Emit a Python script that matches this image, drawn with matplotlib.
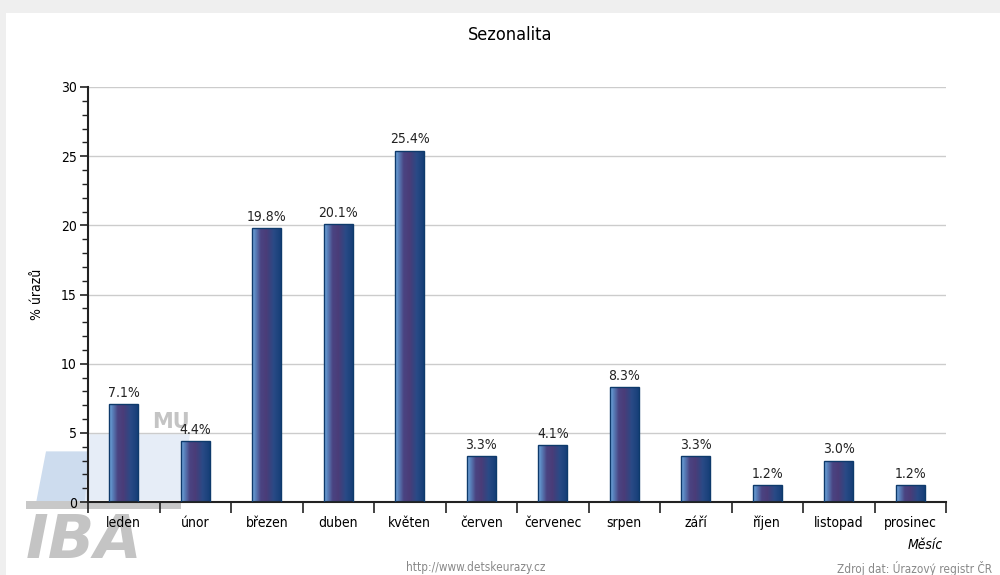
import numpy as np
import matplotlib
matplotlib.use("Agg")
import matplotlib.pyplot as plt
from matplotlib.colors import LinearSegmentedColormap
from matplotlib.patches import Rectangle, Polygon

months = ["leden", "únor", "březen", "duben", "květen", "červen",
          "červenec", "srpen", "září", "říjen", "listopad", "prosinec"]
values = [7.1, 4.4, 19.8, 20.1, 25.4, 3.3, 4.1, 8.3, 3.3, 1.2, 3.0, 1.2]
labels = [f"{v:.1f}%" for v in values]

plt.rcParams['font.family'] = ['DejaVu Sans']
FS = dict(fontstretch='condensed')

fig = plt.figure(figsize=(10, 5.75), dpi=100, facecolor='#efefef')
# white panel
fig.patches.append(Rectangle((0.006, 0), 0.994, 1 - 13 / 575, transform=fig.transFigure,
                             facecolor='white', edgecolor='none', zorder=-2))

# watermark (IBA / MU logo)
fig.patches.append(Polygon([(0.036, 0.125), (0.085, 0.125), (0.095, 0.215), (0.046, 0.215)],
                           closed=True, transform=fig.transFigure, facecolor='#cddcee',
                           edgecolor='none', zorder=-1.5))
fig.patches.append(Polygon([(0.085, 0.13), (0.18, 0.13), (0.19, 0.245), (0.09, 0.245)],
                           closed=True, transform=fig.transFigure, facecolor='#e6edf7',
                           edgecolor='none', zorder=-1.5))
fig.patches.append(Rectangle((0.026, 0.115), 0.155, 0.014, transform=fig.transFigure,
                             facecolor='#c8c8c8', edgecolor='none', zorder=-1.4))
fig.text(0.026, 0.03, "IBA", fontsize=44, fontweight='bold', style='italic',
         color='#c4c4c4', zorder=-1.3)
fig.text(0.152, 0.255, "MU", fontsize=15, fontweight='bold', color='#c4c4c4', zorder=-1.3)

ax = fig.add_axes([0.088, 1 - 502 / 575, 0.858, (502 - 87) / 575])
ax.set_facecolor('none')
x = np.arange(len(months))
bars = ax.bar(x, values, width=0.4, facecolor='none', edgecolor='#0e3a6b',
              linewidth=1.0, zorder=3)

cmap = LinearSegmentedColormap.from_list(
    'g', [(0, '#7aaee2'), (0.1, '#5a86c0'), (0.3, '#4a4482'), (0.5, '#4a3c78'),
          (0.75, '#2a4a86'), (1, '#163f78')])
grad = np.linspace(0, 1, 64).reshape(1, -1)
for b in bars:
    x0, y0 = b.get_x(), b.get_y()
    w, h = b.get_width(), b.get_height()
    im = ax.imshow(grad, cmap=cmap, aspect='auto', extent=(x0, x0 + w, y0, y0 + h),
                   zorder=2, interpolation='bilinear')
    im.set_clip_path(b)

for xi, v, lab in zip(x, values, labels):
    ax.annotate(lab, (xi, v), xytext=(0, 3), textcoords='offset points',
                ha='center', va='bottom', fontsize=10, color='#222222', **FS)

ax.set_xlim(-0.5, len(months) - 0.5)
ax.set_ylim(0, 30)
ax.set_yticks(np.arange(0, 31, 5))
ax.set_yticks(np.arange(0, 31, 1), minor=True)
ax.set_yticklabels([str(t) for t in range(0, 31, 5)], fontsize=10, **FS)
ax.set_xticks(np.arange(-0.5, len(months), 1))
ax.set_xticklabels([])
ax.set_xticks(x, minor=True)
ax.set_xticklabels(months, minor=True, fontsize=10, **FS)
ax.tick_params(axis='x', which='major', length=8, width=1.2, color='#222222')
ax.tick_params(axis='x', which='minor', length=0, pad=10)
ax.tick_params(axis='y', which='major', length=6, width=1.2, color='#222222', pad=2)
ax.tick_params(axis='y', which='minor', length=4, width=1.0, color='#222222')
ax.yaxis.grid(True, which='major', color='#cccccc', linewidth=1.0, zorder=0)
ax.set_axisbelow(True)
for s in ['top', 'right']:
    ax.spines[s].set_visible(False)
ax.spines['left'].set_linewidth(1.5)
ax.spines['bottom'].set_linewidth(1.5)
ax.spines['left'].set_color('#222222')
ax.spines['bottom'].set_color('#222222')

ax.set_ylabel("% úrazů", fontsize=10, labelpad=12, **FS)
fig.text(0.51, 1 - 35 / 575, "Sezonalita", fontsize=13, ha='center', va='center', **FS)
fig.text(0.925, 1 - 545 / 575, "Měsíc", fontsize=10, ha='center', va='center', style='italic', **FS)
fig.text(0.476, 1 - 567 / 575, "http://www.detskeurazy.cz", fontsize=8.5, color='#888888',
         ha='center', va='center', **FS)
fig.text(0.837, 1 - 568 / 575, "Zdroj dat: Úrazový registr ČR", fontsize=8.5, color='#888888',
         ha='left', va='center', **FS)

fig.savefig("out.png", dpi=100, facecolor=fig.get_facecolor())
